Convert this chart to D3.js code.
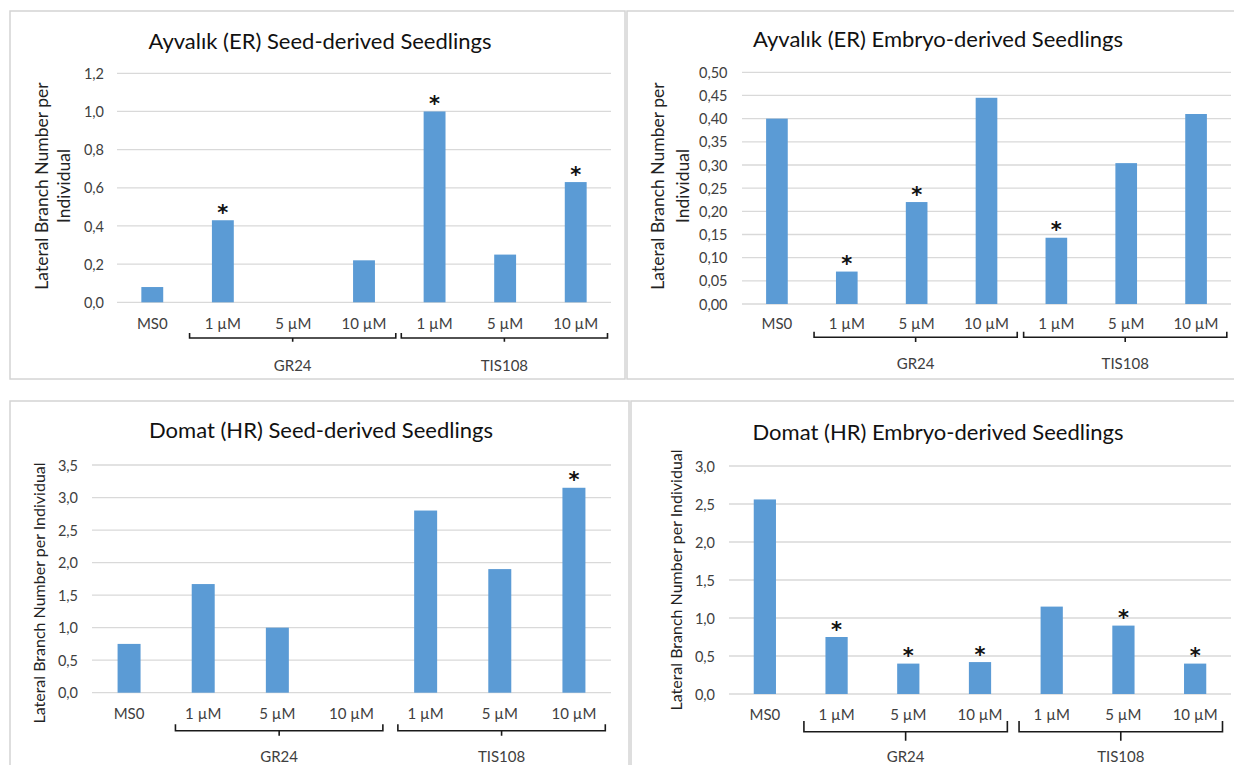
<!DOCTYPE html>
<html>
<head>
<meta charset="utf-8">
<script src="https://cdn.jsdelivr.net/npm/d3@7"></script>
<style>
  body { margin: 0; background: #fff; }
  svg { display: block; }
</style>
</head>
<body>
<svg id="chart" width="1234" height="765"></svg>
<script>
// ---- data ----
const categories = ["MS0", "1 µM", "5 µM", "10 µM", "1 µM", "5 µM", "10 µM"];
const groupNames = ["GR24", "TIS108"];
const groupSpans = [[1, 3], [4, 6]];

const titles = [
  "Ayvalık (ER) Seed-derived Seedlings",
  "Ayvalık (ER) Embryo-derived Seedlings",
  "Domat (HR) Seed-derived Seedlings",
  "Domat (HR) Embryo-derived Seedlings"
];
const yAxisTitle = "Lateral Branch Number per Individual";

const ayvalikSeed   = [0.08, 0.43, 0.00, 0.22, 1.00, 0.25, 0.63];
const ayvalikEmbryo = [0.40, 0.07, 0.22, 0.445, 0.143, 0.304, 0.41];
const domatSeed     = [0.75, 1.67, 1.00, 0.00, 2.80, 1.90, 3.15];
const domatEmbryo   = [2.56, 0.75, 0.40, 0.42, 1.15, 0.90, 0.40];

// significance markers (1 = asterisk above bar)
const ayvalikSeedSig   = [0, 1, 0, 0, 1, 0, 1];
const ayvalikEmbryoSig = [0, 1, 1, 0, 1, 0, 0];
const domatSeedSig     = [0, 0, 0, 0, 0, 0, 1];
const domatEmbryoSig   = [0, 1, 1, 1, 0, 1, 1];

const ticksAyvalikSeed   = [0, 0.2, 0.4, 0.6, 0.8, 1.0, 1.2];
const ticksAyvalikEmbryo = [0, 0.05, 0.10, 0.15, 0.20, 0.25, 0.30, 0.35, 0.40, 0.45, 0.50];
const ticksDomatSeed     = [0, 0.5, 1.0, 1.5, 2.0, 2.5, 3.0, 3.5];
const ticksDomatEmbryo   = [0, 0.5, 1.0, 1.5, 2.0, 2.5, 3.0];

// ---- layout ----
const panels = [
  { title: titles[0], values: ayvalikSeed, sig: ayvalikSeedSig, ticks: ticksAyvalikSeed, dec: 1,
    frame: [10, 11, 615, 368], x0: 117, x1: 611, yTop: 73.3, yBot: 302.3, tickX: 104,
    titleX: 320, titleY: 40, ylabLines: ["Lateral Branch Number per", "Individual"], ylabX: [41, 63], ylabY: 186, ylabSize: 17.5,
    catY: 323, brkTop: 333, brkLine: 338, brkTip: 341.7, brkInset: [2, 3.5], grpY: 365 },
  { title: titles[1], values: ayvalikEmbryo, sig: ayvalikEmbryoSig, ticks: ticksAyvalikEmbryo, dec: 2,
    frame: [627, 11, 620, 368], x0: 742, x1: 1231, yTop: 72.3, yBot: 304, tickX: 727.5,
    titleX: 938, titleY: 38, ylabLines: ["Lateral Branch Number per", "Individual"], ylabX: [657.5, 682], ylabY: 186, ylabSize: 17.5,
    catY: 323, brkTop: 331.7, brkLine: 337.3, brkTip: 342, brkInset: [2.2, 4.2], grpY: 362.7 },
  { title: titles[2], values: domatSeed, sig: domatSeedSig, ticks: ticksDomatSeed, dec: 1,
    frame: [10, 401, 619, 370], x0: 92, x1: 611, yTop: 465, yBot: 692.7, tickX: 78,
    titleX: 321, titleY: 429, ylabLines: [yAxisTitle], ylabX: [38], ylabY: 593, ylabSize: 16,
    catY: 713.3, brkTop: 724.3, brkLine: 730.7, brkTip: 735.7, brkInset: [9.3, 5.7], grpY: 756 },
  { title: titles[3], values: domatEmbryo, sig: domatEmbryoSig, ticks: ticksDomatEmbryo, dec: 1,
    frame: [631, 401, 620, 370], x0: 729, x1: 1231, yTop: 466, yBot: 694, tickX: 715,
    titleX: 938, titleY: 431, ylabLines: [yAxisTitle], ylabX: [675], ylabY: 580, ylabSize: 16,
    catY: 714.3, brkTop: 721, brkLine: 731.7, brkTip: 740.7, brkInset: [3.2, 8.5], grpY: 755.7 }
];

const FONT = "Lato, 'Open Sans', sans-serif";
const BAR = "#5b9bd5";
const GRID = "#d9d9d9";
const TICK_TEXT = "#404040";

const svg = d3.select("#chart");

panels.forEach(p => {
  const g = svg.append("g");

  // chart frame
  g.append("rect")
    .attr("x", p.frame[0]).attr("y", p.frame[1])
    .attr("width", p.frame[2]).attr("height", p.frame[3])
    .attr("fill", "#fff").attr("stroke", "#d4d4d4").attr("stroke-width", 1.5);

  const idx = d3.range(categories.length);
  const x = d3.scaleBand().domain(idx).range([p.x0, p.x1]).paddingInner(0.69).paddingOuter(0.345);
  const step = x.step();
  const gap = (step - x.bandwidth()) / 2;
  const y = d3.scaleLinear().domain([0, d3.max(p.ticks)]).range([p.yBot, p.yTop]);
  const fmt = v => d3.format("." + p.dec + "f")(v).replace(".", ",");

  // gridlines
  g.append("g").selectAll("line").data(p.ticks).join("line")
    .attr("x1", p.x0).attr("x2", p.x1)
    .attr("y1", d => y(d)).attr("y2", d => y(d))
    .attr("stroke", GRID).attr("stroke-width", 1.3);

  // y tick labels
  const yAxis = d3.axisLeft(y).tickValues(p.ticks).tickFormat(fmt).tickSize(0).tickPadding(0);
  const ya = g.append("g").attr("transform", `translate(${p.tickX},0)`).call(yAxis);
  ya.select(".domain").remove();
  ya.selectAll("text")
    .attr("font-family", FONT).attr("font-size", 14.5).attr("fill", TICK_TEXT)
    .attr("dy", "0.35em");

  // bars
  g.append("g").selectAll("rect").data(p.values).join("rect")
    .attr("x", (d, i) => x(i)).attr("width", x.bandwidth())
    .attr("y", d => y(d)).attr("height", d => y(0) - y(d))
    .attr("fill", BAR);

  // significance asterisks
  g.append("g").selectAll("text").data(idx.filter(i => p.sig[i]))
    .join("text")
    .attr("x", i => x(i) + x.bandwidth() / 2)
    .attr("y", i => y(p.values[i]) - 0.5)
    .attr("text-anchor", "middle")
    .attr("font-family", "'DejaVu Sans', sans-serif").attr("font-weight", "bold")
    .attr("font-size", 21).attr("fill", "#111")
    .text("*");

  // category labels
  g.append("g").selectAll("text").data(idx).join("text")
    .attr("x", i => x(i) + x.bandwidth() / 2)
    .attr("y", p.catY)
    .attr("dominant-baseline", "central")
    .attr("text-anchor", "middle")
    .attr("font-family", FONT).attr("font-size", 15).attr("fill", TICK_TEXT)
    .text(i => categories[i]);

  // group brackets and names
  groupSpans.forEach((span, gi) => {
    const bx0 = x(span[0]) - gap + p.brkInset[0];
    const bx1 = x(span[1]) + x.bandwidth() + gap - p.brkInset[1];
    const mid = (bx0 + bx1) / 2;
    g.append("path")
      .attr("d", `M${bx0},${p.brkTop}V${p.brkLine}H${bx1}V${p.brkTop}M${mid},${p.brkLine}V${p.brkTip}`)
      .attr("fill", "none").attr("stroke", "#1a1a1a").attr("stroke-width", 1.6);
    g.append("text")
      .attr("x", mid).attr("y", p.grpY)
      .attr("dominant-baseline", "central").attr("text-anchor", "middle")
      .attr("font-family", FONT).attr("font-size", 15).attr("fill", TICK_TEXT)
      .text(groupNames[gi]);
  });

  // title
  g.append("text")
    .attr("x", p.titleX).attr("y", p.titleY)
    .attr("dominant-baseline", "central").attr("text-anchor", "middle")
    .attr("font-family", FONT).attr("font-size", 22).attr("fill", "#111")
    .text(p.title);

  // y-axis title (one or two lines)
  p.ylabLines.forEach((line, li) => {
    g.append("text")
      .attr("transform", `translate(${p.ylabX[li]},${p.ylabY}) rotate(-90)`)
      .attr("dominant-baseline", "central").attr("text-anchor", "middle")
      .attr("font-family", FONT).attr("font-size", p.ylabSize).attr("fill", "#222")
      .text(line);
  });
});
</script>
</body>
</html>
